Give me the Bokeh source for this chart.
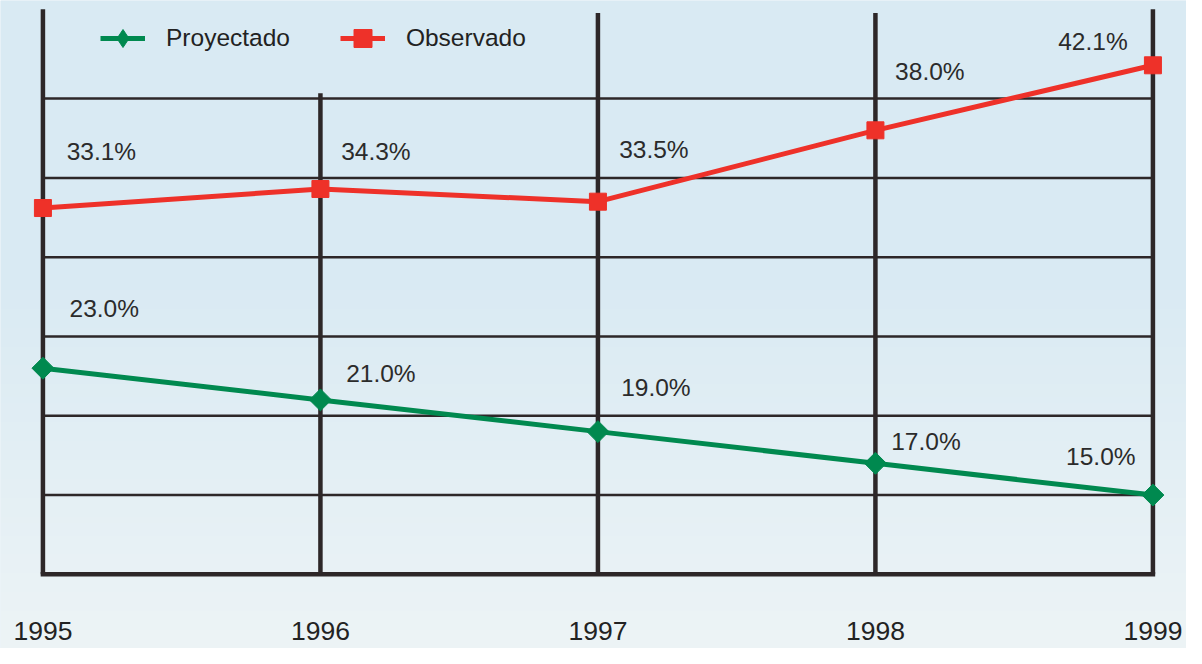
import math
import numpy as np
from bokeh.plotting import figure
from bokeh.models import Range1d, ColumnDataSource, Legend, LegendItem
from bokeh.core.properties import value
from bokeh.embed import file_html
from bokeh.resources import INLINE

# ---- data ----
years = [1995, 1996, 1997, 1998, 1999]
year_labels = ["1995", "1996", "1997", "1998", "1999"]
proyectado = [23.0, 21.0, 19.0, 17.0, 15.0]
observado = [33.1, 34.3, 33.5, 38.0, 42.1]
grid_values = [15, 20, 25, 30, 35, 40]
y_floor = 10

# ---- label placement (pixel offsets from each point) ----
obs_dx = [23.7, 20.7, 21.2, 19.7, -94.7]
obs_dy = [-56.6, -37.1, -51.7, -58.6, -23.4]
pro_dx = [26.6, 25.7, 23.2, 15.8, -86.8]
pro_dy = [-59.5, -26.3, -43.9, -21.5, -39.0]
# top end of each vertical rule (styling)
vline_top = [45.63, 40.34, 45.39, 45.39, 45.63]

W, H = 1186, 648
x0r, x1r = 1994.8471, 1999.1210
y0r, y1r = 5.323, 46.186

p = figure(width=W, height=H, x_range=Range1d(x0r, x1r), y_range=Range1d(y0r, y1r),
           min_border=0, toolbar_location=None, output_backend="svg",
           x_axis_location=None, y_axis_location=None)
p.grid.visible = False
p.outline_line_color = None
p.background_fill_color = "#d9eaf3"
p.border_fill_color = "#d9eaf3"

# background gradient
img = np.empty((H, 1), dtype=np.uint32)
view = img.view(dtype=np.uint8).reshape((H, 1, 4))
top_c = np.array([217, 234, 243], dtype=float)
bot_c = np.array([237, 244, 246], dtype=float)
for r in range(H):
    py = (H - 1 - r) + 0.5
    t = 0.0 if py < 270 else min(1.0, (py - 270) / (H - 270))
    c = top_c + (bot_c - top_c) * t
    view[r, 0, 0] = int(c[0]); view[r, 0, 1] = int(c[1]); view[r, 0, 2] = int(c[2]); view[r, 0, 3] = 255
p.image_rgba(image=[img], x=x0r, y=y0r, dw=x1r - x0r, dh=y1r - y0r)

grid_c = "#2d2728"
p.segment(x0=years[0], x1=years[-1], y0=grid_values, y1=grid_values, line_width=2.5, line_color=grid_c)
p.segment(x0=years[0], x1=years[-1], y0=y_floor, y1=y_floor, line_width=4.5, line_color=grid_c, line_cap="square")
p.segment(x0=years, x1=years, y0=[y_floor] * len(years), y1=vline_top, line_width=4.5, line_color=grid_c)

red = "#ee3129"
green = "#00894f"

r_line = p.line(years, observado, line_color=red, line_width=5)
r_sq = p.scatter(years, observado, marker="square", size=17, fill_color=red, line_color=red)

g_line = p.line(years, proyectado, line_color=green, line_width=5)
g_dia = p.scatter(years, proyectado, marker="diamond", size=18, fill_color=green, line_color=green)
p.scatter(years, proyectado, marker="square", angle=math.pi / 4, size=15.5, fill_color=green, line_color=green)

font = value("Liberation Sans")
txt_c = "#2b2b2b"

obs_src = ColumnDataSource(dict(x=years, y=observado, t=[f"{v:.1f}%" for v in observado], dx=obs_dx, dy=obs_dy))
pro_src = ColumnDataSource(dict(x=years, y=proyectado, t=[f"{v:.1f}%" for v in proyectado], dx=pro_dx, dy=pro_dy))
for src in (obs_src, pro_src):
    p.text(x="x", y="y", text="t", x_offset="dx", y_offset="dy", source=src,
           text_font=font, text_font_size="24.5px", text_color=txt_c,
           text_align="left", text_baseline="middle")

p.text(x=years, y=[y_floor] * len(years), text=year_labels, y_offset=57,
       text_font=font, text_font_size="26.5px", text_color="#222222",
       text_align="center", text_baseline="middle")

legend = Legend(items=[LegendItem(label="Proyectado", renderers=[g_line, g_dia]),
                       LegendItem(label="Observado", renderers=[r_line, r_sq])],
                orientation="horizontal", location=(100, 584),
                glyph_width=45, glyph_height=52, label_height=52, label_standoff=21,
                spacing=50, padding=0, margin=0,
                label_text_font="Liberation Sans", label_text_font_size="24.5px", label_text_color="#222222",
                label_text_baseline="middle",
                border_line_color=None, background_fill_alpha=0)
p.add_layout(legend)

open("out.html", "w").write(file_html(p, INLINE))
